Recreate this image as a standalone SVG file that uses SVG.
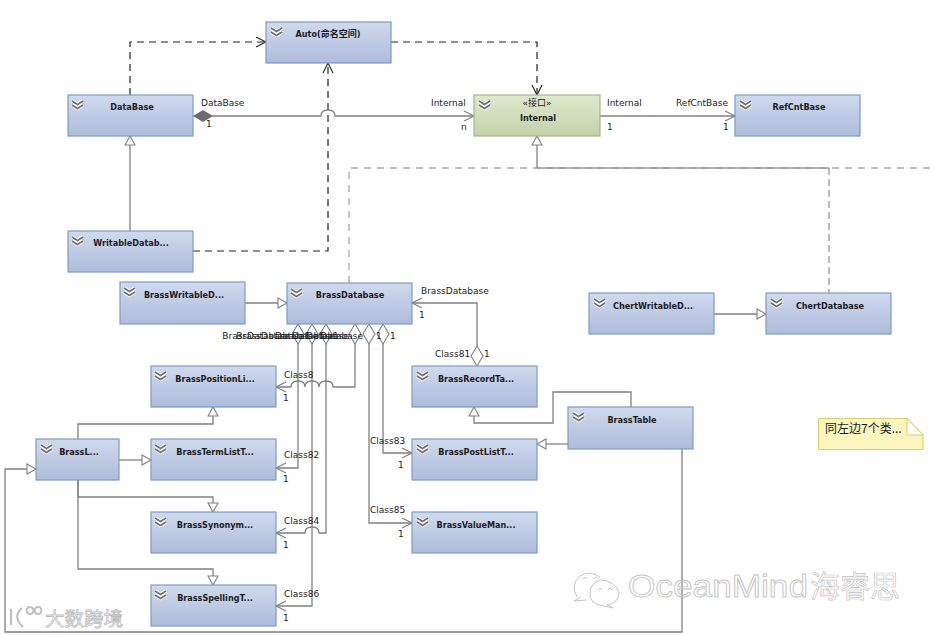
<svg xmlns="http://www.w3.org/2000/svg" width="932" height="635" viewBox="0 0 932 635">
<style>
text{font-family:"DejaVu Sans","Noto Sans CJK SC",sans-serif;fill:#1c1c1c}
.n{font-size:9px;font-weight:700;text-anchor:middle;font-stretch:condensed}
.l{font-size:9px;font-family:"DejaVu Sans",sans-serif}
.box{fill:url(#blue);stroke:#7c9cc4;stroke-width:1.2}
.grn{fill:url(#green);stroke:#a6b48e;stroke-width:1.2}
.c{fill:none;stroke:#808080;stroke-width:1.3}
.t{marker-end:url(#tri)}
.o{marker-end:url(#open)}
.d{fill:none;stroke:#222;stroke-width:1.2;stroke-dasharray:7 5;marker-end:url(#openk)}
.g{fill:none;stroke:#a8a8a8;stroke-width:1.3;stroke-dasharray:7 6}
.a{marker-start:url(#dia)}
.wm{fill:none;stroke:#c4c4c4;stroke-width:1}
</style>
<defs>
<linearGradient id="blue" x1="0" y1="0" x2="0" y2="1"><stop offset="0" stop-color="#d0daee"/><stop offset="1" stop-color="#aebcdb"/></linearGradient>
<linearGradient id="green" x1="0" y1="0" x2="0" y2="1"><stop offset="0" stop-color="#e0e9cf"/><stop offset="1" stop-color="#c3d1aa"/></linearGradient>
<marker id="open" markerUnits="userSpaceOnUse" markerWidth="14" markerHeight="14" refX="11" refY="7" orient="auto" overflow="visible"><path d="M1,2 L11,7 L1,12" fill="none" stroke="#808080" stroke-width="1.2"/></marker>
<marker id="openk" markerUnits="userSpaceOnUse" markerWidth="14" markerHeight="14" refX="11" refY="7" orient="auto" overflow="visible"><path d="M1,2 L11,7 L1,12" fill="none" stroke="#222" stroke-width="1.1" stroke-dasharray="none"/></marker>
<marker id="tri" markerUnits="userSpaceOnUse" markerWidth="14" markerHeight="14" refX="10" refY="7" orient="auto" overflow="visible"><path d="M1,2 L10,7 L1,12 Z" fill="#fff" stroke="#808080" stroke-width="1.1"/></marker>
<marker id="dia" markerUnits="userSpaceOnUse" markerWidth="22" markerHeight="14" refX="0" refY="7" orient="auto" overflow="visible"><path d="M0,7 L10,1 L20,7 L10,13 Z" fill="#fff" stroke="#808080" stroke-width="1.1"/></marker>
<marker id="diaf" markerUnits="userSpaceOnUse" markerWidth="22" markerHeight="14" refX="0" refY="7" orient="auto" overflow="visible"><path d="M0,7 L10,1 L20,7 L10,13 Z" fill="#6c6c6c"/></marker>
<g id="chev"><path d="M0,0 L5.5,3.5 L11,0 M0,4 L5.5,7.5 L11,4" fill="none" stroke="#fff" stroke-width="3.4"/><path d="M0,0 L5.5,3.5 L11,0 M0,4 L5.5,7.5 L11,4" fill="none" stroke="#6e6e6e" stroke-width="1.6"/></g>
</defs>
<rect width="932" height="635" fill="#fff"/>

<g id="connectors">
<path class="d" d="M130,95 V42 H266"/>
<path class="d" d="M193,251 H328 V63"/>
<path class="d" d="M391,42 H537 V95"/>
<path class="c o" style="marker-start:url(#diaf)" d="M193,116 H321 q0,-6 7,-6 q7,0 7,6 H474"/>
<path class="c o" d="M600,116 H735"/>
<path class="c t" d="M130,231 V136"/>
<path class="g" d="M349,283 V168 H932"/>
<path class="c t" d="M537,168 V136"/>
<path class="c" style="stroke:#999;stroke-width:1.6" d="M537,168 H829"/>
<path class="c" style="stroke:#777;stroke-width:1;stroke-dasharray:7 4" d="M829,168 V293"/>
<path class="c t" d="M245,303 H287"/>
<path class="c t" d="M714,314 H766"/>
<path class="c o a" d="M477,366 V303 H412"/>
<path class="c o a" d="M355,324 V387 H333 q0,-6 -7,-6 q-7,0 -7,6 q0,-6 -7,-6 q-7,0 -7,6 q0,-6 -7,-6 q-7,0 -7,6 H276"/>
<path class="c o a" d="M298,324 V468 H276"/>
<path class="c o a" d="M312,324 V606 H276"/>
<path class="c o a" d="M326,324 V533 H319 q0,-6 -7,-6 q-7,0 -7,6 H276"/>
<path class="c o a" d="M369,324 V523 H412"/>
<path class="c o a" d="M383,324 V453 H412"/>
<path class="c t" d="M78,439 V424 H213 V407"/>
<path class="c t" d="M119,460 H151"/>
<path class="c t" d="M78,480 V497 H213 V512"/>
<path class="c t" d="M78,480 V569 H213 V585"/>
<path class="c t" d="M631,407 V392 H553 V423 H474 V407"/>
<path class="c t" d="M568,444 H537"/>
<path class="c t" d="M682,449 V632 H5 V469 H36"/>
</g>

<g id="Auto"><rect class="box" x="266" y="22" width="125" height="41"/><use href="#chev" x="271" y="28"/><text class="n" x="328" y="37">Auto(命名空间)</text></g>
<g id="DataBase"><rect class="box" x="68" y="95" width="125" height="41"/><use href="#chev" x="72" y="101"/><text class="n" x="132" y="110">DataBase</text></g>
<g id="WritableDatabase"><rect class="box" x="68" y="231" width="125" height="41"/><use href="#chev" x="72" y="237"/><text class="n" x="131" y="246">WritableDatab...</text></g>
<g id="Internal"><rect class="grn" x="474" y="95" width="126" height="41"/><use href="#chev" x="479" y="101"/><text x="537" y="106" font-size="9" text-anchor="middle">«接口»</text><text class="n" x="538" y="121">Internal</text></g>
<g id="RefCntBase"><rect class="box" x="735" y="95" width="125" height="41"/><use href="#chev" x="740" y="101"/><text class="n" x="799" y="110">RefCntBase</text></g>
<g id="BrassWritableDatabase"><rect class="box" x="120" y="282" width="125" height="42"/><use href="#chev" x="124" y="288"/><text class="n" x="184" y="298">BrassWritableD...</text></g>
<g id="BrassDatabase"><rect class="box" x="287" y="283" width="125" height="41"/><use href="#chev" x="291" y="289"/><text class="n" x="350" y="298">BrassDatabase</text></g>
<g id="ChertWritableDatabase"><rect class="box" x="589" y="293" width="125" height="41"/><use href="#chev" x="594" y="299"/><text class="n" x="653" y="309">ChertWritableD...</text></g>
<g id="ChertDatabase"><rect class="box" x="766" y="293" width="125" height="41"/><use href="#chev" x="771" y="299"/><text class="n" x="830" y="309">ChertDatabase</text></g>
<g id="BrassPositionList"><rect class="box" x="151" y="366" width="125" height="41"/><use href="#chev" x="155" y="372"/><text class="n" x="215" y="382">BrassPositionLi...</text></g>
<g id="BrassRecordTable"><rect class="box" x="412" y="366" width="125" height="41"/><use href="#chev" x="417" y="372"/><text class="n" x="476" y="382">BrassRecordTa...</text></g>
<g id="BrassL"><rect class="box" x="36" y="439" width="83" height="41"/><use href="#chev" x="41" y="445"/><text class="n" x="79" y="455">BrassL...</text></g>
<g id="BrassTermList"><rect class="box" x="151" y="439" width="125" height="41"/><use href="#chev" x="155" y="445"/><text class="n" x="215" y="455">BrassTermListT...</text></g>
<g id="BrassPostList"><rect class="box" x="412" y="439" width="125" height="41"/><use href="#chev" x="417" y="445"/><text class="n" x="476" y="455">BrassPostListT...</text></g>
<g id="BrassTable"><rect class="box" x="568" y="407" width="125" height="42"/><use href="#chev" x="573" y="413"/><text class="n" x="632" y="423">BrassTable</text></g>
<g id="BrassSynonym"><rect class="box" x="151" y="512" width="125" height="41"/><use href="#chev" x="155" y="518"/><text class="n" x="215" y="528">BrassSynonym...</text></g>
<g id="BrassValueManager"><rect class="box" x="412" y="512" width="125" height="41"/><use href="#chev" x="417" y="518"/><text class="n" x="476" y="528">BrassValueMan...</text></g>
<g id="BrassSpelling"><rect class="box" x="151" y="585" width="125" height="41"/><use href="#chev" x="155" y="591"/><text class="n" x="215" y="601">BrassSpellingT...</text></g>
<g id="Note"><path d="M818.500,418.500 H907 L923,435 V449.500 H818.500 Z" fill="#fbf6bd" stroke="#dccf6e" stroke-width="1.2"/><path d="M907,418.500 V435 H923 Z" fill="#fff" stroke="#dccf6e"/><text x="825" y="433" font-size="12" style="font-family:'Noto Sans CJK SC',sans-serif">同左边7个类...</text></g>

<g id="labels">
<text class="l" x="201" y="106">DataBase</text><text class="l" x="206" y="127">1</text>
<text class="l" x="431" y="106">Internal</text><text class="l" x="461" y="130">n</text>
<text class="l" x="607" y="106">Internal</text><text class="l" x="676" y="106">RefCntBase</text>
<text class="l" x="607" y="130">1</text><text class="l" x="723" y="130">1</text>
<text class="l" x="421" y="294">BrassDatabase</text><text class="l" x="419" y="318">1</text>
<text class="l" x="435" y="357">Class81</text><text class="l" x="484" y="357">1</text>
<text class="l" text-anchor="end" x="290" y="339">BrassDatabase</text><text class="l" text-anchor="end" x="304" y="339">BrassDatabase</text><text class="l" text-anchor="end" x="318" y="339">Database</text>
<text class="l" text-anchor="end" x="349" y="339">Database</text><text class="l" text-anchor="end" x="363" y="339">Database</text><text class="l" text-anchor="end" x="335" y="339">Database</text>
<text class="l" x="305" y="339">1</text><text class="l" x="319" y="339">1</text><text class="l" x="333" y="339">1</text><text class="l" x="376" y="339">1</text><text class="l" x="390" y="339">1</text>
<text class="l" x="284" y="378">Class8</text><text class="l" x="283" y="401">1</text>
<text class="l" x="284" y="458">Class82</text><text class="l" x="283" y="482">1</text>
<text class="l" x="284" y="524">Class84</text><text class="l" x="283" y="548">1</text>
<text class="l" x="284" y="597">Class86</text><text class="l" x="283" y="621">1</text>
<text class="l" x="370" y="444">Class83</text><text class="l" x="398" y="468">1</text>
<text class="l" x="370" y="513">Class85</text><text class="l" x="398" y="537">1</text>
</g>

<g id="watermarks">
<path d="M11,609 V625 M22,608 Q12,617 23,627 M30,607 a3.500,3.500 0 1 0 .1,0 M38,607 a3.500,3.500 0 1 0 .1,0" fill="none" stroke="#bdbdbd" stroke-width="2"/>
<text x="45" y="626" font-size="19.500" style="font-family:'Noto Sans CJK SC',sans-serif;fill:#fff;stroke:#bdbdbd;stroke-width:.8">大数跨境</text>
<path class="wm" d="M577,597 Q570,585 580,576 Q590,570 600,577 M581,597 L574,601 L586,600 M600,580 Q614,580 619,592 Q619,603 607,605 L613,608 L600,605 Q589,603 590,592 Q591,583 600,580"/>
<path class="wm" d="M583,579 l2,-2 l2,2 M594,579 l2,-2 l2,2 M598,590 l2,-2 l2,2 M608,590 l2,-2 l2,2"/>
<text x="628" y="597" font-size="32" textLength="180" lengthAdjust="spacingAndGlyphs" style="font-family:'Liberation Sans',sans-serif;fill:none;stroke:#c4c4c4;stroke-width:.9">OceanMind</text>
<text x="810" y="597" font-size="30" style="font-family:'Noto Sans CJK SC',sans-serif;fill:none;stroke:#c4c4c4;stroke-width:.7">海睿思</text>
</g>
</svg>
